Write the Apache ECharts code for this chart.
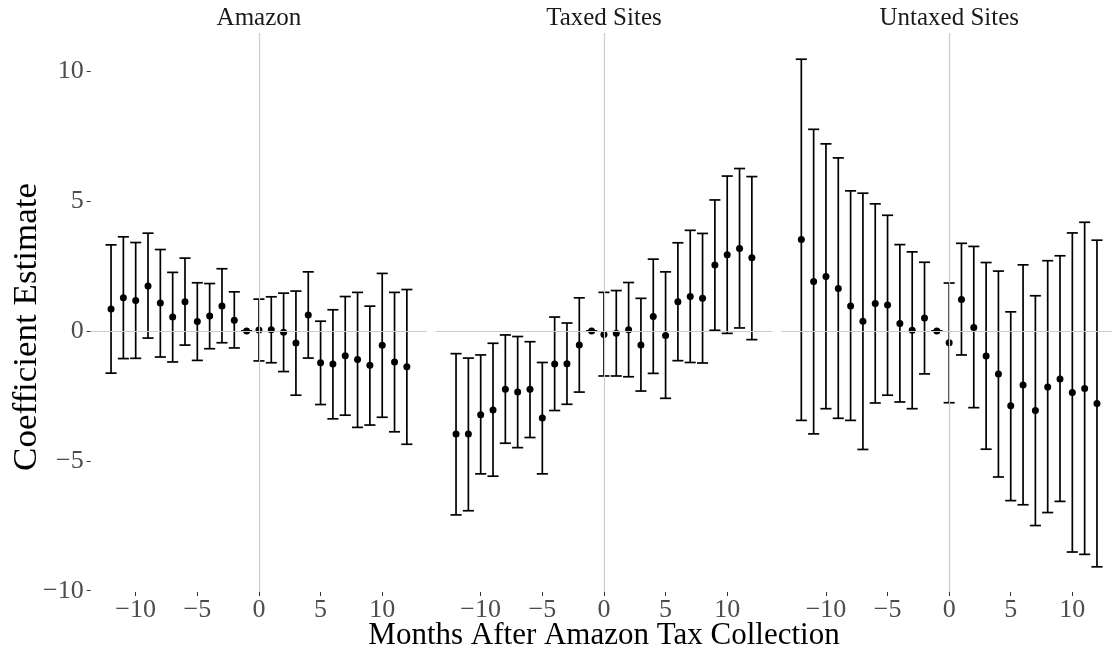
<!DOCTYPE html>
<html>
<head>
<meta charset="utf-8">
<script src="https://cdn.jsdelivr.net/npm/echarts@6/dist/echarts.min.js"></script>
<style>
  html, body { margin: 0; padding: 0; background: #fff; }
  #chart { width: 1112px; height: 657px; }
</style>
</head>
<body>
<div id="chart"></div>
<script>
  // months relative to the start of Amazon tax collection
  var months = [-12, -11, -10, -9, -8, -7, -6, -5, -4, -3, -2, -1, 0, 1, 2, 3, 4, 5, 6, 7, 8, 9, 10, 11, 12];
  var panelNames = ['Amazon', 'Taxed Sites', 'Untaxed Sites'];
  var tickValues = [-10, -5, 0, 5, 10];

  var amazonEst = [0.85, 1.28, 1.18, 1.74, 1.08, 0.54, 1.13, 0.37, 0.58, 0.97, 0.42, 0, 0.04, 0.05, -0.05, -0.46, 0.62, -1.22, -1.27, -0.95, -1.10, -1.32, -0.55, -1.19, -1.37];
  var amazonHi = [3.32, 3.63, 3.41, 3.77, 3.14, 2.26, 2.81, 1.86, 1.83, 2.40, 1.51, 0, 1.23, 1.32, 1.46, 1.54, 2.28, 0.38, 0.82, 1.33, 1.49, 0.96, 2.22, 1.49, 1.60];
  var amazonLo = [-1.62, -1.06, -1.05, -0.27, -1.00, -1.19, -0.54, -1.13, -0.68, -0.45, -0.65, 0, -1.15, -1.22, -1.56, -2.47, -1.04, -2.83, -3.38, -3.24, -3.71, -3.62, -3.32, -3.88, -4.36];

  var taxedEst = [-3.96, -3.96, -3.22, -3.04, -2.24, -2.35, -2.24, -3.35, -1.27, -1.26, -0.54, 0, -0.13, -0.08, 0.05, -0.54, 0.56, -0.17, 1.13, 1.33, 1.26, 2.54, 2.94, 3.18, 2.82];
  var taxedHi = [-0.87, -1.04, -0.92, -0.47, -0.15, -0.21, -0.41, -1.21, 0.54, 0.31, 1.28, 0, 1.49, 1.56, 1.87, 1.26, 2.77, 2.28, 3.40, 3.88, 3.76, 5.05, 5.97, 6.26, 5.95];
  var taxedLo = [-7.08, -6.92, -5.50, -5.59, -4.32, -4.49, -4.10, -5.50, -3.06, -2.82, -2.35, 0, -1.73, -1.73, -1.76, -2.31, -1.63, -2.59, -1.14, -1.21, -1.23, 0.03, -0.09, 0.12, -0.33];

  var untaxedEst = [3.53, 1.91, 2.10, 1.64, 0.97, 0.38, 1.06, 1.00, 0.29, 0.03, 0.50, 0, -0.45, 1.22, 0.14, -0.96, -1.65, -2.88, -2.08, -3.06, -2.15, -1.85, -2.37, -2.21, -2.79];
  var untaxedHi = [10.47, 7.77, 7.21, 6.67, 5.40, 5.31, 4.90, 4.46, 3.33, 3.05, 2.65, 0, 1.85, 3.38, 3.26, 2.64, 2.31, 0.74, 2.55, 1.36, 2.71, 2.90, 3.78, 4.19, 3.50];
  var untaxedLo = [-3.44, -3.96, -2.99, -3.36, -3.44, -4.56, -2.77, -2.47, -2.73, -2.99, -1.65, 0, -2.76, -0.92, -2.95, -4.55, -5.62, -6.53, -6.69, -7.49, -6.99, -6.56, -8.51, -8.60, -9.08];

  var panels = [
    { est: amazonEst, lo: amazonLo, hi: amazonHi },
    { est: taxedEst, lo: taxedLo, hi: taxedHi },
    { est: untaxedEst, lo: untaxedLo, hi: untaxedHi }
  ];

  var serif = 'Liberation Serif';
  // the last panel is cut off by the right edge of the figure
  var gridLefts = [90.7, 435.7, 781];
  var gridWidths = [336.5, 336.5, 331];
  var xMaxes = [13.65, 13.65, 13.22];
  var gridTop = 33;
  var gridHeight = 559;

  function minusSign(v) {
    return String(v).replace('-', '\u2212');
  }

  // error bar: vertical segment plus a cap at each end
  function renderErrorBar(params, api) {
    var x = api.value(0);
    var top = api.coord([x, api.value(2)]);
    var bot = api.coord([x, api.value(1)]);
    var half = api.size([0.45, 0])[0];
    var style = { stroke: '#000', lineWidth: 1.7 };
    return {
      type: 'group',
      children: [
        { type: 'line', shape: { x1: top[0], y1: top[1], x2: bot[0], y2: bot[1] }, style: style },
        { type: 'line', shape: { x1: top[0] - half, y1: top[1], x2: top[0] + half, y2: top[1] }, style: style },
        { type: 'line', shape: { x1: bot[0] - half, y1: bot[1], x2: bot[0] + half, y2: bot[1] }, style: style }
      ]
    };
  }

  var grids = [], xAxes = [], yAxes = [], series = [], graphics = [];

  panels.forEach(function (p, i) {
    grids.push({ left: gridLefts[i], top: gridTop, width: gridWidths[i], height: gridHeight, containLabel: false });

    xAxes.push({
      type: 'value', gridIndex: i, min: -13.65, max: xMaxes[i],
      axisLine: { show: false, onZero: false },
      splitLine: { show: false },
      axisTick: { show: true, customValues: tickValues, length: 4, lineStyle: { color: '#333', width: 1 } },
      axisLabel: {
        customValues: tickValues, formatter: minusSign, margin: 5,
        color: '#4d4d4d', fontFamily: serif, fontSize: 26
      }
    });

    yAxes.push({
      type: 'value', gridIndex: i, min: -10.05, max: 11.48,
      axisLine: { show: false, onZero: false },
      splitLine: { show: false },
      axisTick: { show: i === 0, customValues: tickValues, length: 4, lineStyle: { color: '#333', width: 1 } },
      axisLabel: {
        show: i === 0, customValues: tickValues, formatter: minusSign, margin: 7,
        color: '#4d4d4d', fontFamily: serif, fontSize: 26
      }
    });

    var barData = [], pointData = [];
    for (var k = 0; k < months.length; k++) {
      barData.push([months[k], p.lo[k], p.hi[k]]);
      pointData.push([months[k], p.est[k]]);
    }

    // reference lines at zero
    series.push({
      type: 'scatter', xAxisIndex: i, yAxisIndex: i, data: [], z: 1,
      markLine: {
        silent: true, symbol: 'none', label: { show: false },
        lineStyle: { color: '#cccccc', width: 1.2, type: 'solid' },
        data: [{ yAxis: 0 }, { xAxis: 0 }]
      }
    });
    series.push({
      type: 'custom', xAxisIndex: i, yAxisIndex: i, z: 2,
      renderItem: renderErrorBar,
      encode: { x: 0, y: [1, 2] },
      data: barData
    });
    series.push({
      type: 'scatter', xAxisIndex: i, yAxisIndex: i, z: 3,
      symbolSize: 7, itemStyle: { color: '#000', opacity: 1 },
      data: pointData
    });

    // facet strip label, centred on the zero line of the panel
    graphics.push({
      type: 'text', x: gridLefts[i] + 168.25, y: 18,
      style: { text: panelNames[i], font: '25px "' + serif + '"', fill: '#1a1a1a', textAlign: 'center', textVerticalAlign: 'middle' }
    });
  });

  graphics.push({
    type: 'text', x: 604, y: 636,
    style: { text: 'Months After Amazon Tax Collection', font: '31px "' + serif + '"', fill: '#000', textAlign: 'center', textVerticalAlign: 'middle' }
  });
  graphics.push({
    type: 'text', x: 27, y: 327, rotation: Math.PI / 2, scaleX: 1.06,
    style: { text: 'Coefficient Estimate', font: '33px "' + serif + '"', fill: '#000', textAlign: 'center', textVerticalAlign: 'middle' }
  });

  var chart = echarts.init(document.getElementById('chart'));
  chart.setOption({
    animation: false,
    backgroundColor: '#fff',
    grid: grids,
    xAxis: xAxes,
    yAxis: yAxes,
    series: series,
    graphic: graphics
  });
</script>
</body>
</html>
